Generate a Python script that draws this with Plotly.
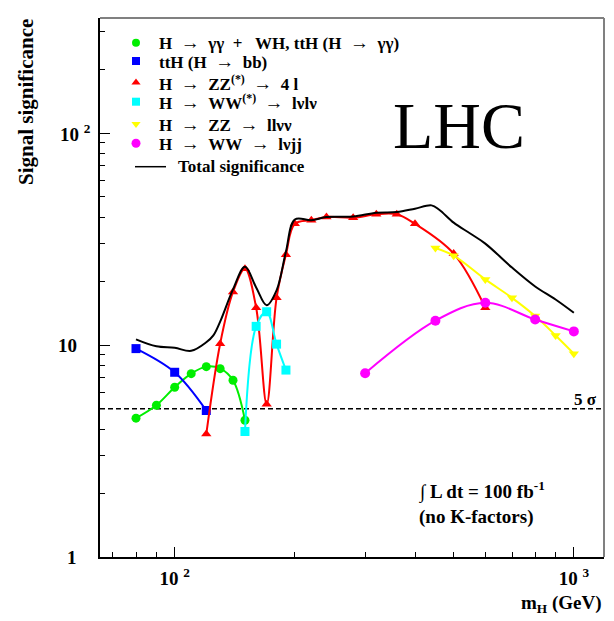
import math
import plotly.graph_objects as go

# Higgs mass points (GeV) and expected signal significance per channel
m_gg = [80, 90, 100, 110, 120, 130, 140, 150]
s_gg = [4.52, 5.20, 6.32, 7.33, 7.91, 7.74, 6.82, 4.42]

m_tth = [80, 100, 120]
s_tth = [9.62, 7.44, 4.91]

m_zz4l = [120, 130, 140, 150, 160, 170, 180, 190, 200, 220, 240, 280, 320, 360, 400, 500, 600]
s_zz4l = [3.80, 10.15, 17.8, 22.9, 15.0, 5.26, 16.7, 26.7, 37.3, 38.8, 40.2, 39.9, 41.4, 41.4, 37.3, 27.0, 15.0]

m_wwlvlv = [150, 160, 170, 180, 190]
s_wwlvlv = [3.91, 12.25, 14.36, 10.1, 7.62]

m_zzllvv = [450, 500, 600, 700, 800, 900, 1000]
s_zzllvv = [28.7, 26.4, 20.4, 16.7, 13.7, 11.1, 9.11]

m_wwlvjj = [300, 450, 600, 800, 1000]
s_wwlvjj = [7.36, 13.03, 15.83, 13.2, 11.6]

m_total = [80, 90, 100, 110, 120, 125, 130, 140, 150, 160, 170, 180, 190, 200, 220,
           240, 280, 320, 360, 400, 440, 460, 500, 550, 600, 700, 800, 900, 1000]
s_total = [10.64, 9.86, 9.70, 9.39, 10.3, 11.1, 12.9, 18.3, 23.4, 18.7, 15.4, 18.1, 27.6, 39.1, 38.8,
           40.2, 40.4, 42.1, 42.4, 44.0, 45.6, 43.5, 37.8, 33.6, 30.1, 23.2, 18.9, 16.4, 14.2]

discovery_level = 5.0

NB = "\u00a0"
ARROW = NB * 2 + '<span style="font-size:19px">\u2192</span>' + NB * 2
legend_labels = [
    "H" + ARROW + "\u03b3\u03b3" + NB * 2 + "+" + NB * 3 + "WH, ttH (H" + ARROW + "\u03b3\u03b3)",
    "ttH (H" + ARROW + "bb)",
    "H" + ARROW + "ZZ<sup>(*)</sup>" + ARROW + "4" + NB + "l",
    "H" + ARROW + "WW<sup>(*)</sup>" + ARROW + "l\u03bdl\u03bd",
    "H" + ARROW + "ZZ" + ARROW + "ll\u03bd\u03bd",
    "H" + ARROW + "WW" + ARROW + "l\u03bdjj",
    "Total significance",
]

SERIF = "Liberation Serif"
X_RANGE = [math.log10(65), math.log10(1190)]
Y_RANGE = [0.0, 2.543]

# plot frame in page pixels: left 100, right 604, top 18, bottom 557
def px_x(px):
    return (px - 100) / 504.0

def px_y(py):
    return (557 - py) / 539.0

channels = [
    (m_gg, s_gg, "#00ee00", "circle", 9),
    (m_tth, s_tth, "#0000ff", "square", 9),
    (m_zz4l, s_zz4l, "#ff0000", "triangle-up", 9),
    (m_wwlvlv, s_wwlvlv, "#00ffff", "square", 9),
    (m_zzllvv, s_zzllvv, "#ffff00", "triangle-down", 9),
    (m_wwlvjj, s_wwlvjj, "#ff00ff", "circle", 10),
]

fig = go.Figure()

# 5 sigma discovery threshold across the full mass range
fig.add_trace(go.Scatter(
    x=[10 ** X_RANGE[0], 10 ** X_RANGE[1]], y=[discovery_level, discovery_level],
    mode="lines", line=dict(color="black", width=1.5, dash="5px,3px"),
    showlegend=False, hoverinfo="skip"))

for mx, sy, col, sym, size in channels:
    fig.add_trace(go.Scatter(
        x=mx, y=sy, mode="lines+markers",
        line=dict(color=col, width=2, shape="spline", smoothing=1.0),
        marker=dict(color=col, symbol=sym, size=size, line=dict(width=0)),
        showlegend=False))

fig.add_trace(go.Scatter(
    x=m_total, y=s_total, mode="lines",
    line=dict(color="black", width=2, shape="spline", smoothing=1.0),
    showlegend=False))

# Hand-built legend on a pixel-unit overlay axis
legend_rows = [42.7, 61.0, 82.5, 101.7, 124.0, 143.3, 166.7]
for (mx, sy, col, sym, size), ry in zip(channels, legend_rows):
    fig.add_trace(go.Scatter(
        x=[136], y=[ry], xaxis="x2", yaxis="y2", mode="markers",
        marker=dict(color=col, symbol=sym, size=size - 1, line=dict(width=0)),
        showlegend=False, hoverinfo="skip"))
fig.add_trace(go.Scatter(
    x=[135, 166], y=[legend_rows[6], legend_rows[6]], xaxis="x2", yaxis="y2",
    mode="lines", line=dict(color="black", width=1.5),
    showlegend=False, hoverinfo="skip"))

annotations = []
for label, ry in zip(legend_labels, legend_rows):
    tx = 178 if label.startswith("Total") else 159
    annotations.append(dict(
        x=tx, y=ry, xref="x2", yref="y2", text="<b>" + label + "</b>",
        showarrow=False, xanchor="left", yanchor="middle", borderpad=0, borderwidth=0,
        font=dict(family=SERIF, size=17, color="black")))

annotations += [
    dict(x=459, y=125, xref="x2", yref="y2", text="LHC", showarrow=False,
         xanchor="center", yanchor="middle", font=dict(family=SERIF, size=66, color="black")),
    dict(x=417, y=491, xref="x2", yref="y2", text="<b>\u222b L dt = 100 fb<sup>-1</sup></b>",
         showarrow=False, xanchor="left", yanchor="middle",
         font=dict(family=SERIF, size=19, color="black")),
    dict(x=417, y=517, xref="x2", yref="y2", text="<b>(no K-factors)</b>",
         showarrow=False, xanchor="left", yanchor="middle",
         font=dict(family=SERIF, size=19, color="black")),
    dict(x=0.99, y=math.log10(discovery_level), xref="paper", yref="y", text="<b>5 \u03c3</b>",
         showarrow=False, xanchor="right", yanchor="bottom", yshift=-2,
         font=dict(family=SERIF, size=17, color="black")),
    # y tick labels
    dict(x=px_x(79), y=math.log10(1), xref="paper", yref="y", text="<b>1</b>", showarrow=False,
         xanchor="right", yanchor="middle", font=dict(family=SERIF, size=19, color="black")),
    dict(x=px_x(79), y=math.log10(10), xref="paper", yref="y", text="<b>10</b>", showarrow=False,
         xanchor="right", yanchor="middle", font=dict(family=SERIF, size=19, color="black")),
    dict(x=px_x(58), y=math.log10(100), xref="paper", yref="y", text="<b>10 <sup>2</sup></b>",
         showarrow=False, xanchor="left", yanchor="middle",
         font=dict(family=SERIF, size=19, color="black")),
    # axis titles
    dict(x=1.0, y=px_y(604), xref="paper", yref="paper", text="<b>m<sub>H</sub> (GeV)</b>",
         showarrow=False, xanchor="right", yanchor="middle",
         font=dict(family=SERIF, size=19, color="black")),
    dict(x=px_x(26), y=px_y(102), xref="paper", yref="paper", text="<b>Signal significance</b>",
         showarrow=False, textangle=-90, xanchor="center", yanchor="middle",
         font=dict(family=SERIF, size=21, color="black")),
]

fig.update_layout(
    width=614, height=621,
    margin=dict(l=100, r=10, t=18, b=64),
    paper_bgcolor="white", plot_bgcolor="white",
    showlegend=False,
    xaxis=dict(
        type="log", range=X_RANGE, showgrid=False, zeroline=False,
        showline=True, linecolor="black", linewidth=1.5,
        ticks="inside", ticklen=10, tickwidth=1, tickcolor="black",
        tickvals=[100, 1000],
        ticktext=["<b>10 <sup>2</sup></b>", "<b>10 <sup>3</sup></b>"],
        tickfont=dict(family=SERIF, size=19, color="black"),
        ticklabelstandoff=3,
        minor=dict(ticks="inside", ticklen=5, tickcolor="black", dtick="D1", showgrid=False),
    ),
    yaxis=dict(
        type="log", range=Y_RANGE, showgrid=False, zeroline=False,
        showline=True, linecolor="black", linewidth=1.5,
        ticks="inside", ticklen=10, tickwidth=1, tickcolor="black",
        tickvals=[1, 10, 100], showticklabels=False,
        minor=dict(ticks="inside", ticklen=5, tickcolor="black", dtick="D1", showgrid=False),
    ),
    xaxis2=dict(overlaying="x", range=[100, 604], visible=False, fixedrange=True),
    yaxis2=dict(overlaying="y", range=[557, 18], visible=False, fixedrange=True),
    annotations=annotations,
    shapes=[
        dict(type="line", xref="paper", yref="paper", x0=1, x1=1, y0=0, y1=1,
             line=dict(color="#808080", width=2)),
        dict(type="line", xref="paper", yref="paper", x0=0, x1=1, y0=1, y1=1,
             line=dict(color="#808080", width=2)),
    ],
)

fig.write_html("out.html")
